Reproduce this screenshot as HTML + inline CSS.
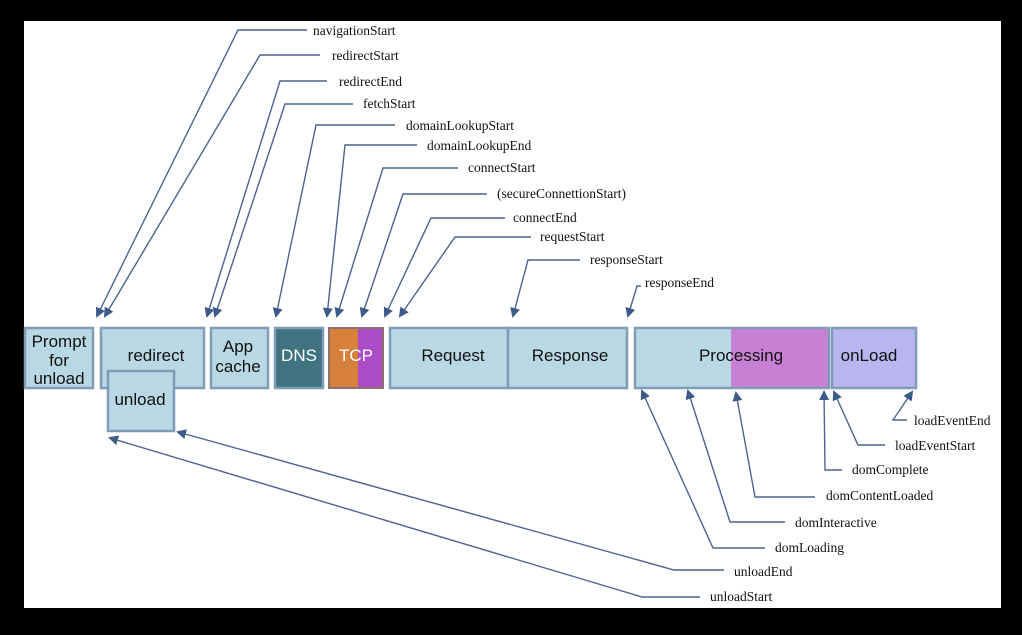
<!DOCTYPE html>
<html><head><meta charset="utf-8"><style>
html,body{margin:0;padding:0;background:#000;}
svg{display:block}
.l{font-family:"Liberation Serif",serif;font-size:13.5px;fill:#111}
.b{font-family:"Liberation Sans",sans-serif;font-size:17px;fill:#111;text-anchor:middle}
.c{stroke:#4a6490;stroke-width:1.4;fill:none;marker-end:url(#a)}
.bx{stroke:#7f9cb8;stroke-width:2.5}
</style></head><body>
<svg width="1022" height="635" viewBox="0 0 1022 635" xmlns="http://www.w3.org/2000/svg">
<defs><marker id="a" markerWidth="10" markerHeight="10" refX="8" refY="5" orient="auto" markerUnits="userSpaceOnUse"><path d="M0,0 L10,5 L0,10 z" fill="#3d5a88"/></marker></defs>
<rect x="0" y="0" width="1022" height="635" fill="#000"/>
<rect x="24" y="21" width="977" height="587" fill="#fff"/>

<rect class="bx" x="25" y="328" width="68" height="60" fill="#b8d8e3"/>
<text class="b" x="59" y="347">Prompt</text><text class="b" x="59" y="366">for</text><text class="b" x="59" y="384">unload</text>
<rect class="bx" x="101" y="328" width="103" height="60" fill="#b8d8e3"/>
<text class="b" x="156" y="361">redirect</text>
<rect class="bx" x="108" y="371" width="66" height="60" fill="#b8d8e3"/>
<text class="b" x="140" y="405">unload</text>
<rect class="bx" x="211" y="328" width="57" height="60" fill="#b8d8e3"/>
<text class="b" x="238" y="352">App</text><text class="b" x="238" y="372">cache</text>
<rect class="bx" x="275" y="328" width="48" height="60" fill="#3f737f"/>
<text class="b" x="299" y="361" style="fill:#fff">DNS</text>
<rect x="329" y="328" width="29" height="60" fill="#d6803c"/>
<rect x="358" y="328" width="25" height="60" fill="#aa4cc6"/>
<rect x="329" y="328" width="54" height="60" fill="none" stroke="#8a7070" stroke-width="2"/>
<text class="b" x="356" y="361" style="fill:#fff">TCP</text>
<rect class="bx" x="390" y="328" width="118" height="60" fill="#b8d8e3"/>
<text class="b" x="453" y="361">Request</text>
<rect class="bx" x="508" y="328" width="119" height="60" fill="#b8d8e3"/>
<text class="b" x="570" y="361">Response</text>
<rect x="635" y="328" width="96" height="60" fill="#b8d8e3"/>
<rect x="731" y="328" width="98" height="60" fill="#c880d4"/>
<rect class="bx" x="635" y="328" width="194" height="60" fill="none"/>
<text class="b" x="741" y="361">Processing</text>
<rect class="bx" x="832" y="328" width="84" height="60" fill="#b9b5f0"/>
<text class="b" x="869" y="361">onLoad</text>

<path class="c" d="M307,30 H238 L97,316"/><text class="l" x="313" y="35">navigationStart</text>
<path class="c" d="M320,55 H260 L105,316"/><text class="l" x="332" y="60">redirectStart</text>
<path class="c" d="M327,81 H280 L207,316"/><text class="l" x="339" y="86">redirectEnd</text>
<path class="c" d="M353,104 H285 L215,316"/><text class="l" x="363" y="108">fetchStart</text>
<path class="c" d="M395,125 H316 L276,316"/><text class="l" x="406" y="130">domainLookupStart</text>
<path class="c" d="M417,145 H345 L327,316"/><text class="l" x="427" y="150">domainLookupEnd</text>
<path class="c" d="M458,168 H383 L337,316"/><text class="l" x="468" y="172">connectStart</text>
<path class="c" d="M487,194 H403 L362,316"/><text class="l" x="497" y="198">(secureConnettionStart)</text>
<path class="c" d="M505,218 H431 L385,316"/><text class="l" x="513" y="222">connectEnd</text>
<path class="c" d="M531,237 H455 L400,316"/><text class="l" x="540" y="241">requestStart</text>
<path class="c" d="M580,260 H528 L513,316"/><text class="l" x="590" y="264">responseStart</text>
<path class="c" d="M641,286 H637 L628,316"/><text class="l" x="645" y="287">responseEnd</text>

<path class="c" d="M907,420 H893 L912,392"/><text class="l" x="914" y="425">loadEventEnd</text>
<path class="c" d="M885,445 H858 L834,392"/><text class="l" x="895" y="450">loadEventStart</text>
<path class="c" d="M842,470 H825 L824,392"/><text class="l" x="852" y="474">domComplete</text>
<path class="c" d="M815,497 H755 L736,393"/><text class="l" x="826" y="500">domContentLoaded</text>
<path class="c" d="M785,522 H730 L688,391"/><text class="l" x="795" y="527">domInteractive</text>
<path class="c" d="M765,548 H713 L642,391"/><text class="l" x="775" y="552">domLoading</text>
<path class="c" d="M724,570 H674 L178,432"/><text class="l" x="734" y="576">unloadEnd</text>
<path class="c" d="M700,597 H642 L110,438"/><text class="l" x="710" y="601">unloadStart</text>
</svg>
</body></html>
